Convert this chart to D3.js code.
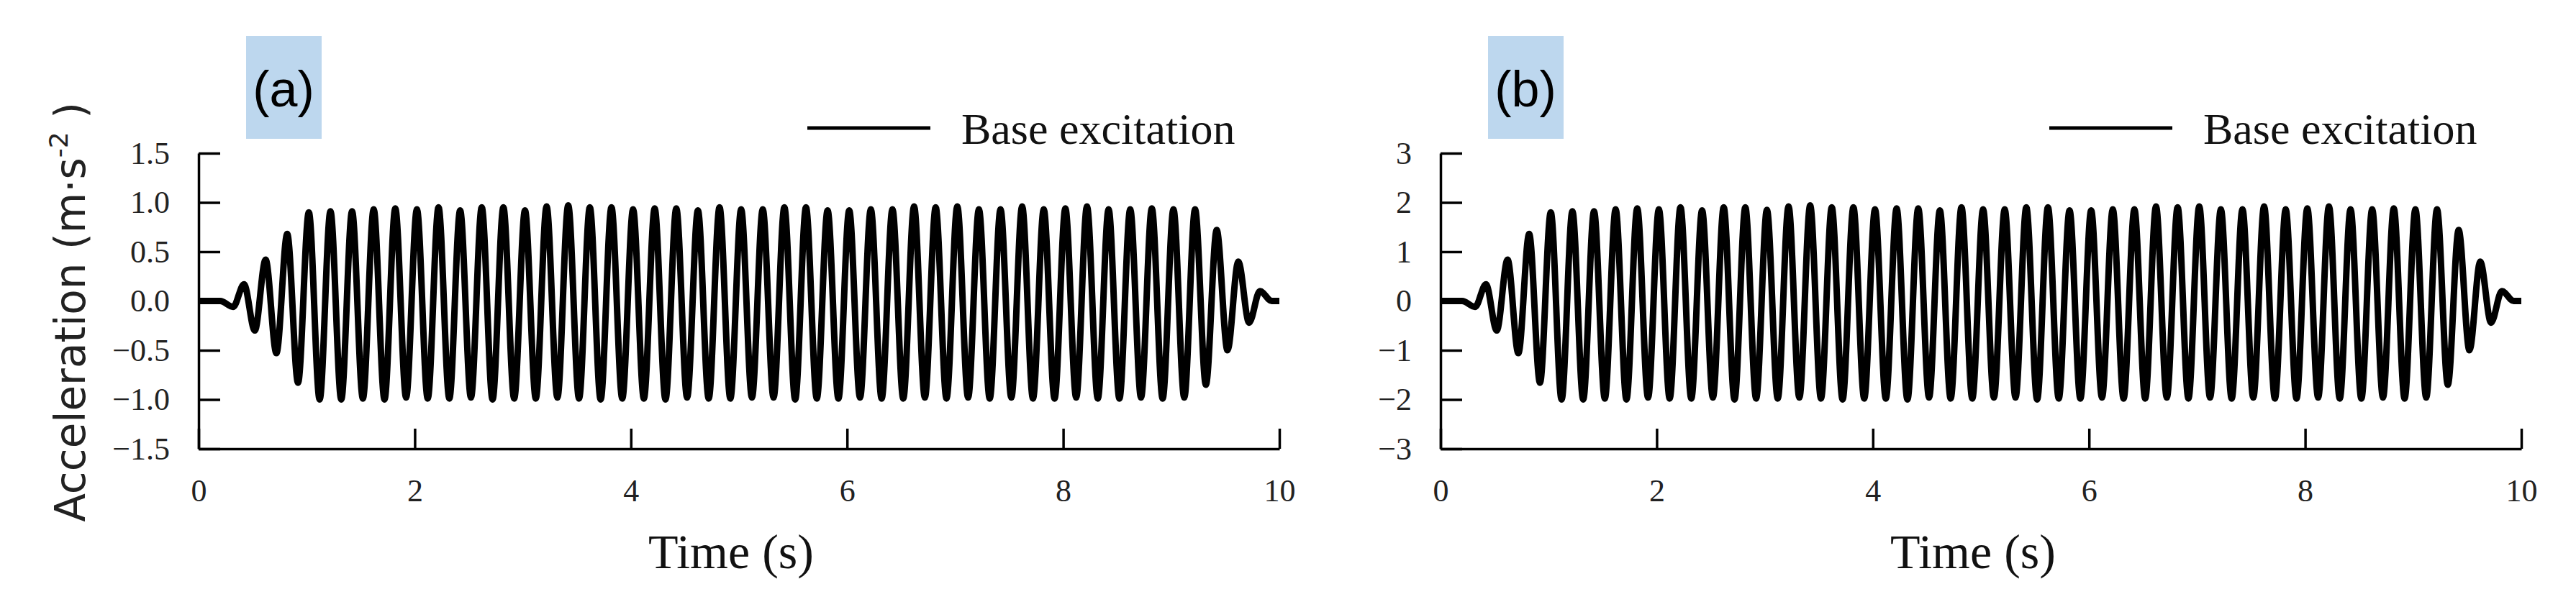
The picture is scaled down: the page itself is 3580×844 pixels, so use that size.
<!DOCTYPE html>
<html>
<head>
<meta charset="utf-8">
<script src="https://cdn.jsdelivr.net/npm/d3@7"></script>
<style>
  body { margin: 0; background: #fff; }
  svg { display: block; }
</style>
</head>
<body>
<svg id="chart" width="3580" height="844"></svg>
<script>
// extrema of the base excitation
var peakTimes = [0.42,0.62,0.82,1.02,1.22,1.42,1.62,1.82,2.02,2.22,2.42,2.62,2.82,3.02,3.22,3.42,
  3.62,3.82,4.02,4.22,4.42,4.62,4.82,5.02,5.22,5.42,5.62,5.82,6.02,6.22,6.42,6.62,6.82,7.02,7.22,
  7.42,7.62,7.82,8.02,8.22,8.42,8.62,8.82,9.02,9.22,9.42,9.62,9.82];
var troughTimes = [0.32,0.52,0.72,0.92,1.12,1.32,1.52,1.72,1.92,2.12,2.32,2.52,2.72,2.92,3.12,3.32,
  3.52,3.72,3.92,4.12,4.32,4.52,4.72,4.92,5.12,5.32,5.52,5.72,5.92,6.12,6.32,6.52,6.72,6.92,7.12,
  7.32,7.52,7.72,7.92,8.12,8.32,8.52,8.72,8.92,9.12,9.32,9.52,9.72];

var peaksA = [0.17,0.42,0.68,0.90,0.91,0.91,0.93,0.94,0.93,0.95,0.92,0.95,0.95,0.92,0.96,0.97,
  0.95,0.95,0.93,0.94,0.94,0.92,0.95,0.93,0.93,0.95,0.95,0.92,0.92,0.93,0.93,0.96,0.95,0.96,0.93,
  0.93,0.96,0.93,0.94,0.96,0.93,0.93,0.94,0.93,0.93,0.72,0.40,0.10];
var troughsA = [-0.06,-0.30,-0.53,-0.83,-1.00,-1.00,-0.99,-1.00,-0.98,-0.99,-0.99,-0.98,-1.00,-0.99,
  -0.99,-0.98,-0.99,-1.00,-0.99,-0.99,-1.00,-0.98,-0.99,-0.99,-0.98,-0.98,-1.00,-0.99,-0.99,-0.98,
  -0.99,-0.99,-0.98,-0.99,-0.98,-0.99,-0.98,-0.99,-0.99,-0.98,-0.99,-0.99,-0.98,-0.99,-0.98,-0.85,-0.50,-0.22];

var peaksB = [0.34,0.84,1.36,1.80,1.82,1.82,1.86,1.88,1.86,1.90,1.84,1.90,1.90,1.85,1.92,1.94,
  1.90,1.90,1.86,1.88,1.88,1.84,1.90,1.86,1.86,1.90,1.90,1.84,1.84,1.86,1.86,1.92,1.90,1.92,1.86,
  1.86,1.92,1.86,1.88,1.92,1.86,1.86,1.88,1.86,1.86,1.44,0.80,0.20];
var troughsB = [-0.12,-0.60,-1.06,-1.66,-2.00,-2.00,-1.98,-2.00,-1.96,-1.98,-1.98,-1.96,-2.00,-1.98,
  -1.98,-1.96,-1.98,-2.00,-1.98,-1.98,-2.00,-1.96,-1.98,-1.98,-1.96,-1.96,-2.00,-1.98,-1.98,-1.96,
  -1.98,-1.98,-1.96,-1.98,-1.96,-1.98,-1.96,-1.98,-1.98,-1.96,-1.98,-1.98,-1.96,-1.98,-1.96,-1.70,-1.00,-0.44];

var xTicks = [0, 2, 4, 6, 8, 10];
var yTicksA = [-1.5, -1.0, -0.5, 0.0, 0.5, 1.0, 1.5];
var yTicksB = [-3, -2, -1, 0, 1, 2, 3];

var svg = d3.select("#chart");
var serif = "'Liberation Serif', 'Times New Roman', serif";

function buildSeries(peaks, troughs){
  var pts = [[0, 0], [0.2, 0.0]];
  for (var i = 0; i < peaks.length; i++) {
    pts.push([troughTimes[i], troughs[i]]);
    pts.push([peakTimes[i], peaks[i]]);
  }
  pts.push([9.93, 0]);
  pts.push([10, 0]);
  return pts;
}

function panel(ox, peaks, troughs, yTicks, yDomain, fmt, label, showTitle){
  var g = svg.append("g").attr("transform", "translate(" + ox + ",0)");
  var x = d3.scaleLinear().domain([0, 10]).range([276, 1778]);
  var y = d3.scaleLinear().domain(yDomain).range([624, 213]);

  // label box
  g.append("rect").attr("x", 342).attr("y", 50).attr("width", 105).attr("height", 143)
    .attr("fill", "#bdd7ee");
  g.append("text").attr("x", 394).attr("y", 148).attr("text-anchor", "middle")
    .attr("font-family", "'Liberation Sans Narrow', 'Liberation Sans', sans-serif")
    .attr("font-size", 70).text(label);

  // axes
  var ax = g.append("g").attr("transform", "translate(0,624)")
    .call(d3.axisBottom(x).tickValues(xTicks).tickSize(-28).tickSizeOuter(0).tickPadding(42));
  var ay = g.append("g").attr("transform", "translate(276,0)")
    .call(d3.axisLeft(y).tickValues(yTicks).tickSize(-30).tickSizeOuter(0).tickFormat(fmt).tickPadding(40));
  [ax, ay].forEach(function(a){
    a.selectAll("path, line").attr("stroke", "#000").attr("stroke-width", 3.5);
    a.selectAll("text").attr("font-family", serif).attr("font-size", 44).attr("fill", "#222");
  });
  ax.selectAll("text").attr("dy", "0.71em");

  // signal
  var line = d3.line().x(function(d){ return x(d[0]); }).y(function(d){ return y(d[1]); })
    .curve(d3.curveMonotoneX);
  g.append("path").datum(buildSeries(peaks, troughs)).attr("d", line)
    .attr("fill", "none").attr("stroke", "#000").attr("stroke-width", 9);

  // legend
  g.append("line").attr("x1", 1122).attr("x2", 1293).attr("y1", 178).attr("y2", 178)
    .attr("stroke", "#000").attr("stroke-width", 5);
  g.append("text").attr("x", 1336).attr("y", 200).attr("font-family", serif)
    .attr("font-size", 62).attr("fill", "#111").text("Base excitation");

  // x title
  g.append("text").attr("x", 1016).attr("y", 790).attr("text-anchor", "middle")
    .attr("font-family", serif).attr("font-size", 68).attr("fill", "#111").text("Time (s)");

  if (showTitle) {
    var t = g.append("text").attr("transform", "translate(118,434) rotate(-90)")
      .attr("text-anchor", "middle").attr("font-family", "'DejaVu Sans', sans-serif")
      .attr("font-size", 58).attr("fill", "#222");
    t.append("tspan").text("Acceleration (m\u00b7s");
    t.append("tspan").attr("dy", -24).attr("font-size", 36).text("-2");
    t.append("tspan").attr("dy", 24).text(" )");
  }
}

panel(0, peaksA, troughsA, yTicksA, [-1.5, 1.5], d3.format(".1f"), "(a)", true);
panel(1726, peaksB, troughsB, yTicksB, [-3, 3], d3.format("d"), "(b)", false);
</script>
</body>
</html>
